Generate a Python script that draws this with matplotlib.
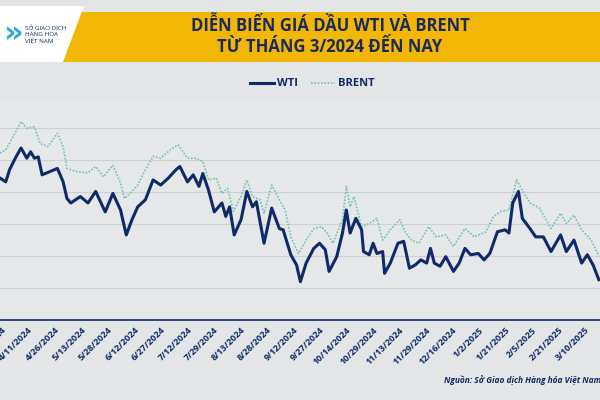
import matplotlib.pyplot as plt
from matplotlib.patches import Polygon, Rectangle

# x positions along the time axis (sample positions), prices in USD/barrel
wti_x = [0, 15, 25, 40, 55, 70, 80, 90, 100, 110, 130, 150, 165, 175, 185, 210, 230, 250, 275, 295,
         315, 330, 345, 360, 380, 400, 420, 440, 460, 470, 490, 505, 520, 530, 545, 560, 580, 590, 600, 612,
         630, 645, 660, 670, 690, 710, 730, 740, 760, 775, 785, 800, 820, 835, 850, 860, 880, 895, 905, 915,
         930, 945, 950, 965, 975, 985, 1000, 1005, 1020, 1040, 1055, 1070, 1085, 1100, 1115, 1125, 1135, 1150, 1165, 1185,
         1200, 1215, 1230, 1250, 1265, 1280, 1300, 1320, 1330, 1340, 1355, 1365, 1385, 1400, 1420, 1440, 1465, 1480, 1500, 1520,
         1535, 1550, 1565]
wti = [82.2, 81.6, 83.5, 85.3, 86.9, 85.3, 86.3, 85.3, 85.5, 82.7, 83.2, 83.7, 81.6, 79.0, 78.3, 79.3, 78.3, 80.1, 76.9, 79.8,
       77.2, 73.3, 75.7, 77.7, 78.8, 81.9, 81.1, 82.2, 83.5, 84.0, 81.6, 82.7, 80.9, 82.9, 80.3, 76.9, 78.3, 76.2, 77.7, 73.3,
       75.7, 80.1, 77.7, 78.5, 72.0, 77.5, 74.3, 74.1, 70.2, 68.6, 66.0, 68.9, 71.2, 72.0, 71.0, 67.6, 69.9, 73.6, 77.2, 73.6,
       75.9, 74.1, 70.7, 70.2, 72.0, 70.4, 70.7, 67.3, 68.9, 72.0, 72.3, 68.1, 68.6, 69.4, 68.9, 71.2, 68.9, 68.4, 69.9, 67.6,
       68.9, 71.2, 70.2, 70.4, 69.4, 70.4, 73.8, 74.1, 73.6, 78.3, 80.1, 75.9, 74.3, 73.0, 73.0, 70.7, 73.3, 70.7, 72.5, 68.9,
       70.2, 68.6, 66.3]

brent_x = [0, 15, 30, 55, 70, 90, 105, 125, 150, 165, 175, 200, 230, 250, 270, 295, 315, 325, 345, 360,
           380, 400, 420, 445, 465, 490, 510, 530, 545, 565, 580, 595, 610, 630, 645, 660, 680, 690, 710, 730,
           745, 760, 780, 800, 820, 840, 855, 870, 895, 905, 915, 925, 945, 965, 985, 1000, 1020, 1045, 1060, 1075,
           1095, 1120, 1140, 1165, 1185, 1215, 1240, 1270, 1290, 1310, 1330, 1350, 1365, 1385, 1410, 1440, 1465, 1480, 1500, 1520,
           1545, 1565]
brent = [86.1, 86.6, 88.2, 91.0, 90.0, 90.2, 87.6, 87.1, 89.2, 87.1, 83.7, 83.2, 83.0, 84.0, 82.4, 84.2, 81.4, 79.0, 80.1, 81.1,
         83.5, 85.6, 85.3, 86.6, 87.4, 85.3, 85.3, 84.8, 81.9, 82.2, 79.8, 80.6, 77.0, 79.3, 81.9, 79.3, 78.8, 76.7, 81.1, 78.8,
         77.2, 73.0, 70.4, 72.5, 74.3, 74.6, 73.6, 72.0, 75.7, 80.9, 77.7, 79.3, 74.6, 75.1, 75.9, 72.5, 74.1, 75.7, 73.6, 72.5,
         72.0, 74.6, 73.0, 73.3, 71.5, 74.3, 73.0, 73.8, 76.2, 77.0, 77.2, 81.9, 80.3, 78.3, 77.5, 74.3, 76.7, 75.1, 76.4, 74.1,
         72.5, 70.0]

tick_pos = [4, 73, 143, 212, 281, 351, 420, 489, 558, 628, 697, 766, 835, 905, 974, 1043, 1113, 1182, 1251, 1320,
            1390, 1459, 1528]
tick_labels = ["3/26/2024", "4/11/2024", "4/26/2024", "5/13/2024", "5/28/2024", "6/12/2024", "6/27/2024",
               "7/12/2024", "7/29/2024", "8/13/2024", "8/28/2024", "9/12/2024", "9/27/2024", "10/14/2024",
               "10/29/2024", "11/13/2024", "11/29/2024", "12/16/2024", "1/2/2025", "1/21/2025", "2/5/2025",
               "2/21/2025", "3/10/2025"]
grid_levels = [65, 70, 75, 80, 85, 90]

NAVY = "#0f2a66"
TEAL = "#6fc3b0"
FONT = "Open Sans"

fig = plt.figure(figsize=(6, 4), dpi=100)
fig.patch.set_facecolor("#e4e5e7")

# header banner
fig.patches.append(Rectangle((0.06, 0.845), 0.94, 0.125, transform=fig.transFigure,
                             facecolor="#f2b705", edgecolor="none"))
fig.patches.append(Polygon([(0, 0.86), (0, 0.985), (0.14, 0.985), (0.105, 0.845), (0, 0.845)],
                           transform=fig.transFigure, facecolor="white", edgecolor="none"))
fig.text(0.005, 0.915, "»", fontsize=22, color="#29a9e0", va="center", fontweight="bold")
fig.text(0.042, 0.915, "SỞ GIAO DỊCH\nHÀNG HÓA\nVIỆT NAM", fontsize=4.5, color=NAVY,
         va="center", family=FONT, linespacing=1.1)
fig.text(0.55, 0.91, "DIỄN BIẾN GIÁ DẦU WTI VÀ BRENT\nTỪ THÁNG 3/2024 ĐẾN NAY", ha="center", va="center",
         fontsize=12, fontweight="bold", color="#1b2a5e", family=FONT, linespacing=1.15)

ax = fig.add_axes([0.0, 0.2, 1.0, 0.55])
ax.set_facecolor("#e6e7e9")
for g in grid_levels:
    ax.axhline(g, color="#cfd0d3", lw=0.8, zorder=0)
ax.plot(brent_x, brent, color=TEAL, lw=1.2, ls=(0, (1, 1)), label="BRENT")
ax.plot(wti_x, wti, color=NAVY, lw=2.2, label="WTI")
ax.set_xlim(0, 1568)
ax.set_ylim(60, 94.4)
ax.set_yticks([])
ax.set_xticks(tick_pos)
ax.set_xticklabels(tick_labels, rotation=45, ha="right", rotation_mode="anchor",
                   fontsize=6.5, fontweight="bold", color=NAVY, family=FONT)
ax.tick_params(axis="x", length=0, pad=4)
for s in ["left", "right", "top"]:
    ax.spines[s].set_visible(False)
ax.spines["bottom"].set_color(NAVY)
ax.spines["bottom"].set_linewidth(1.2)

handles, labels = ax.get_legend_handles_labels()
fig.legend(handles[::-1], labels[::-1], loc="center", bbox_to_anchor=(0.52, 0.79), ncol=2, frameon=False,
           prop={"family": FONT, "weight": "bold", "size": 8}, labelcolor=NAVY,
           handlelength=2.2, handletextpad=0.2, columnspacing=1.2)

fig.text(0.74, 0.04, "Nguồn: Sở Giao dịch Hàng hóa Việt Nam", ha="left", fontsize=6,
         style="italic", fontweight="bold", color=NAVY, family=FONT)

fig.savefig("out.png", dpi=100, facecolor=fig.get_facecolor())
